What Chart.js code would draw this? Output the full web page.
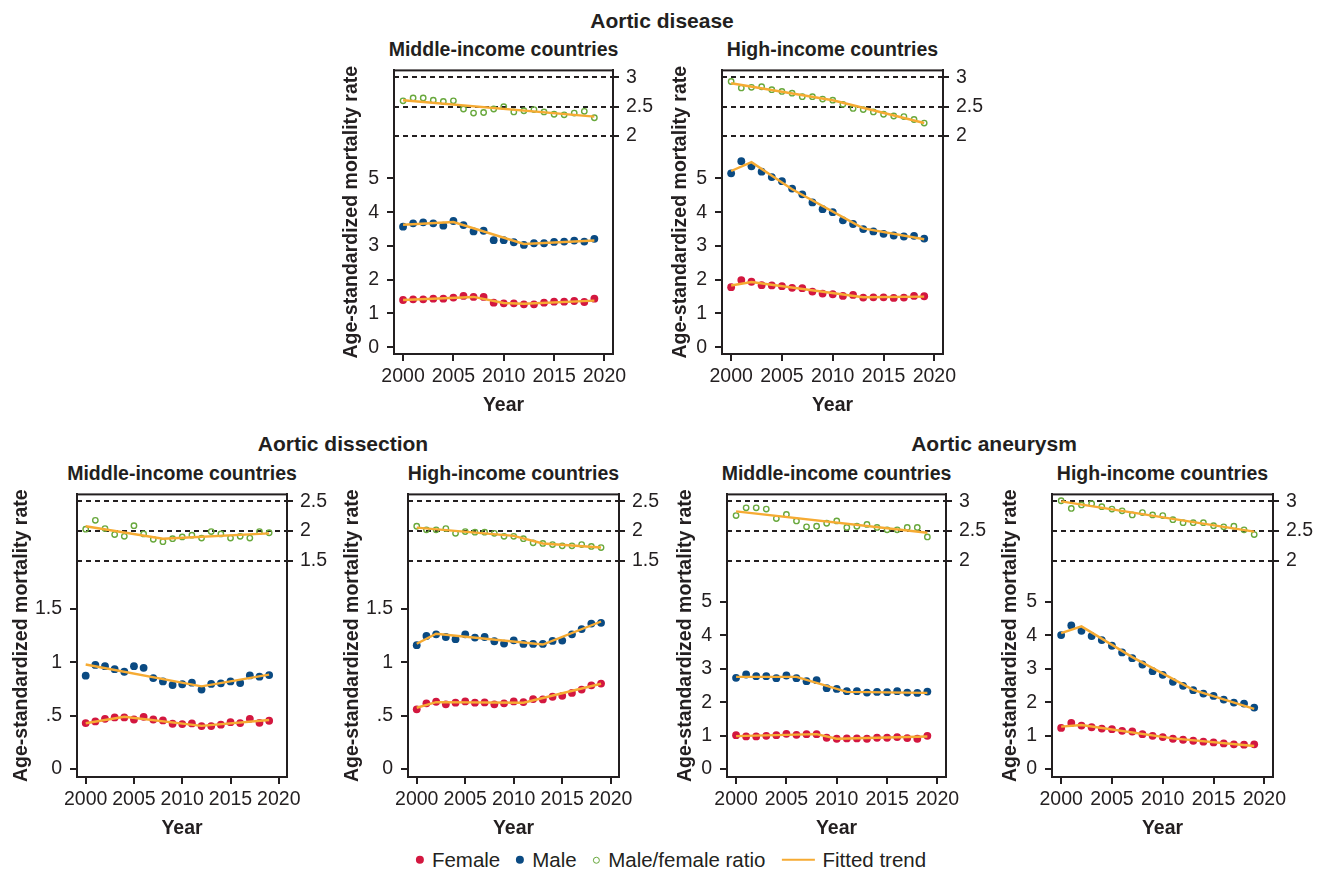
<!DOCTYPE html>
<html>
<head>
<meta charset="utf-8">
<title>Aortic disease mortality trends</title>
<script src="https://cdn.jsdelivr.net/npm/chart.js@4.4.1/dist/chart.umd.min.js"></script>
<style>
	body { margin: 0; background: #fff; font-family: "Liberation Sans", Arial, sans-serif; color: #231f20; }
	#page { position: relative; width: 1328px; height: 872px; overflow: hidden; }
	.lbl { position: absolute; transform: translate(-50%, -50%); white-space: nowrap; line-height: 1; font-weight: bold; }
	.group { font-size: 21px; }
	.sub { font-size: 19.5px; }
	canvas { position: absolute; }
	#legend { position: absolute; left: 671px; top: 860px; transform: translate(-50%, -50%); display: flex; align-items: center; font-size: 20.5px; line-height: 1; white-space: nowrap; }
	.mk { display: inline-block; margin-right: 8px; }
	.item { display: flex; align-items: center; margin-right: 16px; }
	.item:last-child { margin-right: 0; }
</style>
</head>
<body>
<div id="page"><div id="legend"></div></div>
<script>
	const years = [2000, 2001, 2002, 2003, 2004, 2005, 2006, 2007, 2008, 2009, 2010, 2011, 2012, 2013, 2014, 2015, 2016, 2017, 2018, 2019];
	const xTicks = [2000, 2005, 2010, 2015, 2020];
	const rateTicksWide = [0, 1, 2, 3, 4, 5];
	const rateTicksNarrow = [0, 0.5, 1, 1.5];
	const ratioTicksHigh = [2, 2.5, 3];
	const ratioTicksLow = [1.5, 2, 2.5];
	const legendLabels = ['Female', 'Male', 'Male/female ratio', 'Fitted trend'];

	/* Aortic disease - middle-income */
	const diseaseMidFemale = [1.40, 1.42, 1.42, 1.44, 1.44, 1.47, 1.52, 1.49, 1.49, 1.32, 1.30, 1.30, 1.27, 1.27, 1.32, 1.35, 1.35, 1.37, 1.34, 1.44];
	const diseaseMidMale = [3.57, 3.67, 3.70, 3.67, 3.60, 3.74, 3.62, 3.43, 3.45, 3.17, 3.17, 3.11, 3.03, 3.08, 3.08, 3.12, 3.13, 3.16, 3.13, 3.21];
	const diseaseMidRatio = [2.60, 2.65, 2.65, 2.61, 2.59, 2.60, 2.46, 2.39, 2.40, 2.46, 2.50, 2.41, 2.43, 2.45, 2.41, 2.37, 2.36, 2.39, 2.42, 2.31];
	const diseaseMidFemaleTrend = [[2000, 1.40], [2007, 1.49], [2010, 1.31], [2012, 1.29], [2019, 1.38]];
	const diseaseMidMaleTrend = [[2000, 3.63], [2005, 3.71], [2012, 3.06], [2019, 3.16]];
	const diseaseMidRatioTrend = [[2000, 2.61], [2019, 2.33]];

	/* Aortic disease - high-income */
	const diseaseHighFemale = [1.78, 1.99, 1.94, 1.84, 1.83, 1.81, 1.76, 1.75, 1.65, 1.59, 1.57, 1.52, 1.55, 1.47, 1.48, 1.48, 1.46, 1.47, 1.52, 1.51];
	const diseaseHighMale = [5.15, 5.51, 5.36, 5.20, 5.04, 4.92, 4.70, 4.53, 4.29, 4.09, 4.00, 3.76, 3.65, 3.50, 3.43, 3.36, 3.31, 3.28, 3.30, 3.22];
	const diseaseHighRatio = [2.93, 2.82, 2.83, 2.84, 2.79, 2.76, 2.73, 2.67, 2.67, 2.63, 2.61, 2.54, 2.47, 2.45, 2.41, 2.37, 2.34, 2.33, 2.28, 2.22];
	const diseaseHighFemaleTrend = [[2000, 1.83], [2002, 1.93], [2013, 1.48], [2019, 1.50]];
	const diseaseHighMaleTrend = [[2000, 5.22], [2002, 5.48], [2006, 4.68], [2013, 3.52], [2019, 3.20]];
	const diseaseHighRatioTrend = [[2000, 2.90], [2010, 2.61], [2019, 2.22]];

	/* Aortic dissection - middle-income */
	const dissectionMidFemale = [0.431, 0.447, 0.471, 0.484, 0.484, 0.465, 0.490, 0.465, 0.456, 0.425, 0.422, 0.428, 0.403, 0.403, 0.416, 0.440, 0.431, 0.471, 0.434, 0.453];
	const dissectionMidMale = [0.875, 0.976, 0.964, 0.936, 0.912, 0.964, 0.949, 0.853, 0.822, 0.788, 0.795, 0.810, 0.745, 0.798, 0.804, 0.822, 0.807, 0.878, 0.866, 0.881];
	const dissectionMidRatio = [2.03, 2.18, 2.04, 1.94, 1.91, 2.09, 1.95, 1.86, 1.82, 1.87, 1.90, 1.93, 1.88, 1.99, 1.95, 1.88, 1.91, 1.88, 1.99, 1.97];
	const dissectionMidFemaleTrend = [[2000, 0.43], [2004, 0.49], [2012, 0.405], [2019, 0.46]];
	const dissectionMidMaleTrend = [[2000, 0.98], [2012, 0.775], [2019, 0.885]];
	const dissectionMidRatioTrend = [[2000, 2.08], [2008, 1.87], [2019, 1.96]];

	/* Aortic dissection - high-income */
	const dissectionHighFemale = [0.560, 0.616, 0.631, 0.607, 0.622, 0.634, 0.622, 0.625, 0.607, 0.616, 0.634, 0.628, 0.656, 0.653, 0.678, 0.687, 0.714, 0.745, 0.785, 0.801];
	const dissectionHighMale = [1.161, 1.247, 1.263, 1.238, 1.217, 1.263, 1.232, 1.238, 1.198, 1.176, 1.207, 1.173, 1.173, 1.173, 1.201, 1.204, 1.263, 1.312, 1.364, 1.371];
	const dissectionHighRatio = [2.08, 2.02, 2.02, 2.04, 1.96, 1.99, 1.98, 1.98, 1.96, 1.91, 1.91, 1.87, 1.80, 1.79, 1.77, 1.75, 1.75, 1.77, 1.74, 1.72];
	const dissectionHighFemaleTrend = [[2000, 0.575], [2002, 0.628], [2011, 0.622], [2019, 0.80]];
	const dissectionHighMaleTrend = [[2000, 1.175], [2002, 1.268], [2013, 1.167], [2019, 1.383]];
	const dissectionHighRatioTrend = [[2000, 2.056], [2010, 1.917], [2013, 1.789], [2019, 1.722]];

	/* Aortic aneurysm - middle-income */
	const aneurysmMidFemale = [1.016, 0.976, 0.976, 0.996, 1.016, 1.055, 1.026, 1.045, 1.045, 0.937, 0.907, 0.917, 0.917, 0.907, 0.937, 0.937, 0.957, 0.927, 0.907, 0.996];
	const aneurysmMidMale = [2.73, 2.83, 2.78, 2.78, 2.72, 2.80, 2.72, 2.63, 2.66, 2.42, 2.40, 2.33, 2.33, 2.29, 2.31, 2.30, 2.33, 2.29, 2.28, 2.32];
	const aneurysmMidRatio = [2.76, 2.89, 2.89, 2.87, 2.71, 2.78, 2.67, 2.57, 2.58, 2.63, 2.67, 2.56, 2.58, 2.61, 2.56, 2.52, 2.52, 2.56, 2.56, 2.40];
	const aneurysmMidFemaleTrend = [[2000, 0.986], [2008, 1.045], [2010, 0.907], [2019, 0.976]];
	const aneurysmMidMaleTrend = [[2000, 2.76], [2006, 2.76], [2011, 2.31], [2019, 2.28]];
	const aneurysmMidRatioTrend = [[2000, 2.83], [2019, 2.47]];

	/* Aortic aneurysm - high-income */
	const aneurysmHighFemale = [1.233, 1.381, 1.302, 1.252, 1.213, 1.193, 1.144, 1.124, 1.045, 0.996, 0.957, 0.907, 0.878, 0.848, 0.819, 0.799, 0.769, 0.740, 0.730, 0.740];
	const aneurysmHighMale = [4.01, 4.30, 4.14, 3.98, 3.86, 3.69, 3.49, 3.32, 3.13, 2.93, 2.82, 2.61, 2.49, 2.36, 2.26, 2.19, 2.08, 1.99, 1.96, 1.84];
	const aneurysmHighRatio = [3.01, 2.88, 2.94, 2.96, 2.91, 2.87, 2.84, 2.77, 2.81, 2.77, 2.76, 2.69, 2.64, 2.64, 2.64, 2.59, 2.57, 2.58, 2.52, 2.44];
	const aneurysmHighFemaleTrend = [[2000, 1.27], [2002, 1.32], [2011, 0.92], [2019, 0.69]];
	const aneurysmHighMaleTrend = [[2000, 4.07], [2002, 4.27], [2007, 3.35], [2013, 2.37], [2019, 1.80]];
	const aneurysmHighRatioTrend = [[2000, 3.0], [2019, 2.49]];

	const FEMALE = '#d3173f', MALE = '#0a4a82', RATIO = '#68a83c', TREND = '#f6ab33', INK = '#231f20';
	const FONT = '"Liberation Sans", Arial, sans-serif';

	const groups = [
		{ text: 'Aortic disease', x: 662, y: 20 },
		{ text: 'Aortic dissection', x: 343, y: 443 },
		{ text: 'Aortic aneurysm', x: 994, y: 443 }
	];

	// frame = [left, top, right, bottom] of the plot box on the page
	const panels = [
		{ sub: 'Middle-income countries', frame: [394, 67, 613, 354], axisW: 56, yRange: [-0.2, 8.2], yTicks: rateTicksWide, y2Range: [-1.73, 3.12], y2Ticks: ratioTicksHigh,
			female: diseaseMidFemale, male: diseaseMidMale, ratio: diseaseMidRatio, fTrend: diseaseMidFemaleTrend, mTrend: diseaseMidMaleTrend, rTrend: diseaseMidRatioTrend },
		{ sub: 'High-income countries', frame: [722, 67, 943, 354], axisW: 55, yRange: [-0.2, 8.2], yTicks: rateTicksWide, y2Range: [-1.73, 3.12], y2Ticks: ratioTicksHigh,
			female: diseaseHighFemale, male: diseaseHighMale, ratio: diseaseHighRatio, fTrend: diseaseHighFemaleTrend, mTrend: diseaseHighMaleTrend, rTrend: diseaseHighRatioTrend },
		{ sub: 'Middle-income countries', frame: [77, 491, 287, 777], axisW: 69, yRange: [-0.074, 2.574], yTicks: rateTicksNarrow, y2Range: [-2.15, 2.617], y2Ticks: ratioTicksLow,
			female: dissectionMidFemale, male: dissectionMidMale, ratio: dissectionMidRatio, fTrend: dissectionMidFemaleTrend, mTrend: dissectionMidMaleTrend, rTrend: dissectionMidRatioTrend },
		{ sub: 'High-income countries', frame: [408, 491, 619, 777], axisW: 69, yRange: [-0.074, 2.574], yTicks: rateTicksNarrow, y2Range: [-2.15, 2.617], y2Ticks: ratioTicksLow,
			female: dissectionHighFemale, male: dissectionHighMale, ratio: dissectionHighRatio, fTrend: dissectionHighFemaleTrend, mTrend: dissectionHighMaleTrend, rTrend: dissectionHighRatioTrend },
		{ sub: 'Middle-income countries', frame: [727, 491, 946, 777], axisW: 55, yRange: [-0.237, 8.22], yTicks: rateTicksWide, y2Range: [-1.65, 3.117], y2Ticks: ratioTicksHigh,
			female: aneurysmMidFemale, male: aneurysmMidMale, ratio: aneurysmMidRatio, fTrend: aneurysmMidFemaleTrend, mTrend: aneurysmMidMaleTrend, rTrend: aneurysmMidRatioTrend },
		{ sub: 'High-income countries', frame: [1052, 491, 1273, 777], axisW: 55, yRange: [-0.237, 8.22], yTicks: rateTicksWide, y2Range: [-1.65, 3.117], y2Ticks: ratioTicksHigh,
			female: aneurysmHighFemale, male: aneurysmHighMale, ratio: aneurysmHighRatio, fTrend: aneurysmHighFemaleTrend, mTrend: aneurysmHighMaleTrend, rTrend: aneurysmHighRatioTrend }
	];

	const RIGHT_W = 50, X_H = 64, TOP_PAD = 2;

	function pts(values) { return years.map((yr, i) => ({ x: yr, y: values[i] })); }
	function trend(pairs) { return pairs.map(p => ({ x: p[0], y: p[1] })); }
	function fmt(v) { return v > 0 && v < 1 ? String(v).replace(/^0/, '') : String(v); }
	function set_ticks(list) { return s => { s.ticks = list.map(v => ({ value: v })); }; }
	// fixed box sizes, and no extra room asked for the end labels
	function fix_width(w) { return s => { s.width = w; s.paddingTop = 0; s.paddingBottom = 0; }; }
	function fix_height(h) { return s => { s.height = h; s.paddingLeft = 0; s.paddingRight = 0; }; }

	const frame_plugin = {
		id: 'plotFrame',
		afterDatasetsDraw(chart) {
			let a = chart.chartArea, ctx = chart.ctx;
			ctx.save();
			ctx.strokeStyle = INK;
			ctx.lineWidth = 2;
			ctx.setLineDash([]);
			ctx.strokeRect(a.left, a.top, a.right - a.left, a.bottom - a.top);
			ctx.restore();
		}
	};

	let page = document.getElementById('page');

	function add_label(text, x, y, cls) {
		let d = document.createElement('div');
		d.className = 'lbl ' + cls;
		d.textContent = text;
		d.style.left = x + 'px';
		d.style.top = y + 'px';
		page.appendChild(d);
	}

	groups.forEach(g => add_label(g.text, g.x, g.y, 'group'));

	function make_panel(p) {
		let [fl, ft, fr, fb] = p.frame;
		add_label(p.sub, (fl + fr) / 2, ft < 200 ? 50 : 474, 'sub');

		let w = p.axisW + (fr - fl) + RIGHT_W;
		let h = TOP_PAD + (fb - ft) + X_H;
		let canvas = document.createElement('canvas');
		canvas.width = w; canvas.height = h;
		canvas.style.width = w + 'px'; canvas.style.height = h + 'px';
		canvas.style.left = (fl - p.axisW) + 'px';
		canvas.style.top = (ft - TOP_PAD) + 'px';
		page.appendChild(canvas);

		let tickFont = { family: FONT, size: 19.5 };
		let titleFont = { family: FONT, size: 19.5, weight: 'bold' };
		let tickGrid = { drawOnChartArea: false, drawTicks: true, tickLength: 7, color: INK, lineWidth: 2 };
		let lineSet = (data, axis) => ({ data: trend(data), yAxisID: axis, showLine: true, borderColor: TREND, borderWidth: 2.4, pointRadius: 0, tension: 0, order: 0 });

		new Chart(canvas.getContext('2d'), {
			type: 'scatter',
			data: {
				datasets: [
					lineSet(p.fTrend, 'y'),
					lineSet(p.mTrend, 'y'),
					lineSet(p.rTrend, 'y2'),
					{ data: pts(p.female), yAxisID: 'y', pointRadius: 3.9, backgroundColor: FEMALE, borderWidth: 0, order: 1 },
					{ data: pts(p.male), yAxisID: 'y', pointRadius: 3.9, backgroundColor: MALE, borderWidth: 0, order: 1 },
					{ data: pts(p.ratio), yAxisID: 'y2', pointRadius: 2.7, backgroundColor: 'rgba(0,0,0,0)', borderColor: RATIO, borderWidth: 1.4, order: 1 }
				]
			},
			options: {
				responsive: false,
				maintainAspectRatio: false,
				animation: false,
				layout: { padding: { top: TOP_PAD, left: 0, right: 0, bottom: 0 } },
				plugins: { legend: { display: false }, tooltip: { enabled: false } },
				scales: {
					x: {
						type: 'linear', min: 1999.1, max: 2020.85,
						afterBuildTicks: set_ticks(xTicks),
						afterFit: fix_height(X_H),
						ticks: { autoSkip: false, maxRotation: 0, padding: 4, color: INK, font: tickFont, callback: v => String(v) },
						grid: tickGrid,
						border: { display: true, color: INK, width: 2 },
						title: { display: true, text: 'Year', color: INK, font: titleFont, padding: { top: 0, bottom: 1 } }
					},
					y: {
						position: 'left', min: p.yRange[0], max: p.yRange[1],
						afterBuildTicks: set_ticks(p.yTicks),
						afterFit: fix_width(p.axisW),
						ticks: { padding: 8, color: INK, font: tickFont, callback: v => fmt(v) },
						grid: tickGrid,
						border: { display: true, color: INK, width: 2 },
						title: { display: true, text: 'Age-standardized mortality rate', color: INK, font: titleFont, padding: { top: 2, bottom: 0 } }
					},
					y2: {
						position: 'right', min: p.y2Range[0], max: p.y2Range[1],
						afterBuildTicks: set_ticks(p.y2Ticks),
						afterFit: fix_width(RIGHT_W),
						ticks: { padding: 6, color: INK, font: tickFont, callback: v => String(v) },
						grid: { drawOnChartArea: true, drawTicks: true, tickLength: 7, color: INK, lineWidth: 2, tickBorderDash: [5, 4] },
						border: { display: true, color: INK, width: 2, dash: [5, 4] }
					}
				}
			},
			plugins: [frame_plugin]
		});
	}

	panels.forEach(make_panel);

	/* legend */
	let markers = [
		'<span class="mk" style="width:8px;height:8px;border-radius:50%;background:' + FEMALE + '"></span>',
		'<span class="mk" style="width:8px;height:8px;border-radius:50%;background:' + MALE + '"></span>',
		'<span class="mk" style="width:5.5px;height:5.5px;border-radius:50%;border:1.3px solid ' + RATIO + '"></span>',
		'<span class="mk" style="width:33px;height:2px;background:' + TREND + '"></span>'
	];
	let legend = document.getElementById('legend');
	legendLabels.forEach((lbl, i) => {
		let it = document.createElement('span');
		it.className = 'item';
		it.innerHTML = markers[i] + '<span>' + lbl + '</span>';
		legend.appendChild(it);
	});
</script>
</body>
</html>
